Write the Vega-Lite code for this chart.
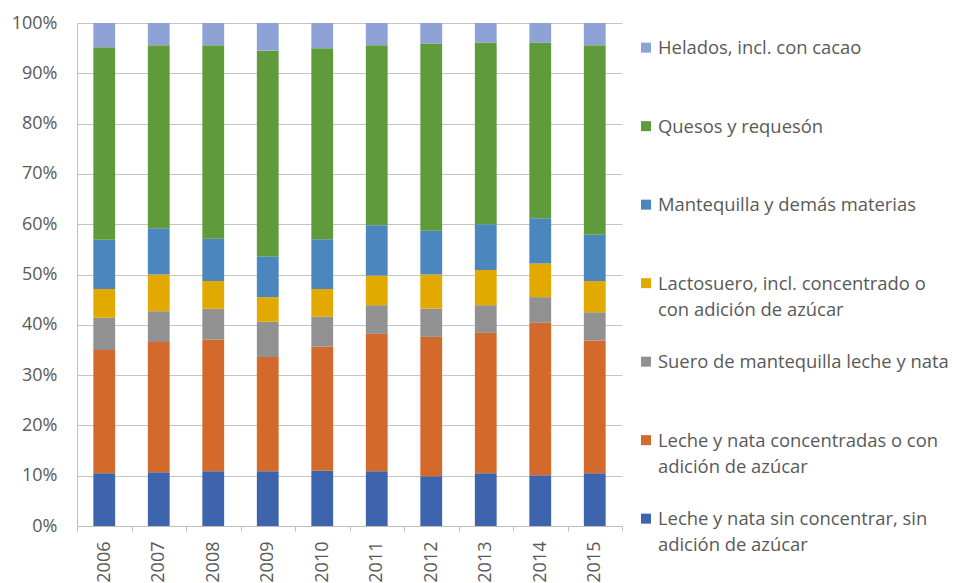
{
  "$schema": "https://vega.github.io/schema/vega-lite/v6.json",
  "padding": {"left": 11, "top": 14, "right": 0, "bottom": 0},
  "config": {"font": "Open Sans", "view": {"stroke": null}},
  "datasets": {
    "shares": [
      {"year": "2006", "cat": "Leche y nata sin concentrar, sin adición de azúcar", "pct": 10.5},
      {"year": "2006", "cat": "Leche y nata concentradas o con adición de azúcar", "pct": 24.5},
      {"year": "2006", "cat": "Suero de mantequilla leche y nata", "pct": 6.4},
      {"year": "2006", "cat": "Lactosuero, incl. concentrado o con adición de azúcar", "pct": 5.7},
      {"year": "2006", "cat": "Mantequilla y demás materias", "pct": 9.8},
      {"year": "2006", "cat": "Quesos y requesón", "pct": 38.3},
      {"year": "2006", "cat": "Helados, incl. con cacao", "pct": 4.8},
      {"year": "2007", "cat": "Leche y nata sin concentrar, sin adición de azúcar", "pct": 10.7},
      {"year": "2007", "cat": "Leche y nata concentradas o con adición de azúcar", "pct": 25.9},
      {"year": "2007", "cat": "Suero de mantequilla leche y nata", "pct": 6.1},
      {"year": "2007", "cat": "Lactosuero, incl. concentrado o con adición de azúcar", "pct": 7.3},
      {"year": "2007", "cat": "Mantequilla y demás materias", "pct": 9.2},
      {"year": "2007", "cat": "Quesos y requesón", "pct": 36.4},
      {"year": "2007", "cat": "Helados, incl. con cacao", "pct": 4.4},
      {"year": "2008", "cat": "Leche y nata sin concentrar, sin adición de azúcar", "pct": 10.9},
      {"year": "2008", "cat": "Leche y nata concentradas o con adición de azúcar", "pct": 26.2},
      {"year": "2008", "cat": "Suero de mantequilla leche y nata", "pct": 6.1},
      {"year": "2008", "cat": "Lactosuero, incl. concentrado o con adición de azúcar", "pct": 5.5},
      {"year": "2008", "cat": "Mantequilla y demás materias", "pct": 8.4},
      {"year": "2008", "cat": "Quesos y requesón", "pct": 38.5},
      {"year": "2008", "cat": "Helados, incl. con cacao", "pct": 4.4},
      {"year": "2009", "cat": "Leche y nata sin concentrar, sin adición de azúcar", "pct": 10.9},
      {"year": "2009", "cat": "Leche y nata concentradas o con adición de azúcar", "pct": 22.7},
      {"year": "2009", "cat": "Suero de mantequilla leche y nata", "pct": 7.0},
      {"year": "2009", "cat": "Lactosuero, incl. concentrado o con adición de azúcar", "pct": 4.9},
      {"year": "2009", "cat": "Mantequilla y demás materias", "pct": 8.1},
      {"year": "2009", "cat": "Quesos y requesón", "pct": 40.9},
      {"year": "2009", "cat": "Helados, incl. con cacao", "pct": 5.5},
      {"year": "2010", "cat": "Leche y nata sin concentrar, sin adición de azúcar", "pct": 11.0},
      {"year": "2010", "cat": "Leche y nata concentradas o con adición de azúcar", "pct": 24.7},
      {"year": "2010", "cat": "Suero de mantequilla leche y nata", "pct": 5.9},
      {"year": "2010", "cat": "Lactosuero, incl. concentrado o con adición de azúcar", "pct": 5.5},
      {"year": "2010", "cat": "Mantequilla y demás materias", "pct": 9.9},
      {"year": "2010", "cat": "Quesos y requesón", "pct": 38.0},
      {"year": "2010", "cat": "Helados, incl. con cacao", "pct": 5.0},
      {"year": "2011", "cat": "Leche y nata sin concentrar, sin adición de azúcar", "pct": 10.9},
      {"year": "2011", "cat": "Leche y nata concentradas o con adición de azúcar", "pct": 27.3},
      {"year": "2011", "cat": "Suero de mantequilla leche y nata", "pct": 5.7},
      {"year": "2011", "cat": "Lactosuero, incl. concentrado o con adición de azúcar", "pct": 5.9},
      {"year": "2011", "cat": "Mantequilla y demás materias", "pct": 10.0},
      {"year": "2011", "cat": "Quesos y requesón", "pct": 35.8},
      {"year": "2011", "cat": "Helados, incl. con cacao", "pct": 4.4},
      {"year": "2012", "cat": "Leche y nata sin concentrar, sin adición de azúcar", "pct": 9.9},
      {"year": "2012", "cat": "Leche y nata concentradas o con adición de azúcar", "pct": 27.7},
      {"year": "2012", "cat": "Suero de mantequilla leche y nata", "pct": 5.6},
      {"year": "2012", "cat": "Lactosuero, incl. concentrado o con adición de azúcar", "pct": 6.8},
      {"year": "2012", "cat": "Mantequilla y demás materias", "pct": 8.7},
      {"year": "2012", "cat": "Quesos y requesón", "pct": 37.2},
      {"year": "2012", "cat": "Helados, incl. con cacao", "pct": 4.1},
      {"year": "2013", "cat": "Leche y nata sin concentrar, sin adición de azúcar", "pct": 10.5},
      {"year": "2013", "cat": "Leche y nata concentradas o con adición de azúcar", "pct": 27.9},
      {"year": "2013", "cat": "Suero de mantequilla leche y nata", "pct": 5.5},
      {"year": "2013", "cat": "Lactosuero, incl. concentrado o con adición de azúcar", "pct": 7.0},
      {"year": "2013", "cat": "Mantequilla y demás materias", "pct": 9.1},
      {"year": "2013", "cat": "Quesos y requesón", "pct": 36.1},
      {"year": "2013", "cat": "Helados, incl. con cacao", "pct": 3.9},
      {"year": "2014", "cat": "Leche y nata sin concentrar, sin adición de azúcar", "pct": 10.1},
      {"year": "2014", "cat": "Leche y nata concentradas o con adición de azúcar", "pct": 30.3},
      {"year": "2014", "cat": "Suero de mantequilla leche y nata", "pct": 5.1},
      {"year": "2014", "cat": "Lactosuero, incl. concentrado o con adición de azúcar", "pct": 6.7},
      {"year": "2014", "cat": "Mantequilla y demás materias", "pct": 9.0},
      {"year": "2014", "cat": "Quesos y requesón", "pct": 34.9},
      {"year": "2014", "cat": "Helados, incl. con cacao", "pct": 3.9},
      {"year": "2015", "cat": "Leche y nata sin concentrar, sin adición de azúcar", "pct": 10.5},
      {"year": "2015", "cat": "Leche y nata concentradas o con adición de azúcar", "pct": 26.4},
      {"year": "2015", "cat": "Suero de mantequilla leche y nata", "pct": 5.6},
      {"year": "2015", "cat": "Lactosuero, incl. concentrado o con adición de azúcar", "pct": 6.2},
      {"year": "2015", "cat": "Mantequilla y demás materias", "pct": 9.2},
      {"year": "2015", "cat": "Quesos y requesón", "pct": 37.7},
      {"year": "2015", "cat": "Helados, incl. con cacao", "pct": 4.4}
    ],
    "legend": [
      {"cat": "Helados, incl. con cacao", "label": "Helados, incl. con cacao"},
      {"cat": "Quesos y requesón", "label": "Quesos y requesón"},
      {"cat": "Mantequilla y demás materias", "label": "Mantequilla y demás materias"},
      {"cat": "Lactosuero, incl. concentrado o con adición de azúcar", "label": "Lactosuero, incl. concentrado o\ncon adición de azúcar"},
      {"cat": "Suero de mantequilla leche y nata", "label": "Suero de mantequilla leche y nata"},
      {"cat": "Leche y nata concentradas o con adición de azúcar", "label": "Leche y nata concentradas o con\nadición de azúcar"},
      {"cat": "Leche y nata sin concentrar, sin adición de azúcar", "label": "Leche y nata sin concentrar, sin\nadición de azúcar"}
    ]
  },
  "hconcat": [
    {
      "width": 545,
      "height": 503,
      "data": {"name": "shares"},
      "transform": [
        {"window": [{"op": "row_number", "as": "stackrank"}], "groupby": ["year"]}
      ],
      "mark": {"type": "bar", "width": {"band": 0.4}},
      "encoding": {
        "x": {
          "field": "year",
          "type": "ordinal",
          "scale": {"paddingInner": 0, "paddingOuter": 0},
          "axis": {
            "title": null,
            "labelAngle": -90,
            "labelFontSize": 18,
            "labelColor": "#595959",
            "labelPadding": 10,
            "tickBand": "extent",
            "tickSize": 5,
            "tickColor": "#bfbfbf",
            "domainColor": "#bfbfbf",
            "grid": false
          }
        },
        "y": {
          "field": "pct",
          "type": "quantitative",
          "stack": "normalize",
          "axis": {
            "title": null,
            "values": [0, 0.1, 0.2, 0.3, 0.4, 0.5, 0.6, 0.7, 0.8, 0.9, 1],
            "format": ".0%",
            "labelFontSize": 18,
            "labelColor": "#595959",
            "labelPadding": 20,
            "ticks": false,
            "grid": true,
            "gridColor": "#c4c4c4",
            "domainColor": "#bfbfbf"
          }
        },
        "order": {"field": "stackrank", "type": "quantitative", "sort": "ascending"},
        "color": {
          "field": "cat",
          "type": "nominal",
          "scale": {
            "domain": [
              "Leche y nata sin concentrar, sin adición de azúcar",
              "Leche y nata concentradas o con adición de azúcar",
              "Suero de mantequilla leche y nata",
              "Lactosuero, incl. concentrado o con adición de azúcar",
              "Mantequilla y demás materias",
              "Quesos y requesón",
              "Helados, incl. con cacao"
            ],
            "range": ["#3E64AD", "#D3692A", "#919191", "#E2AA00", "#4C86BE", "#5F9B3B", "#8EA2D6"]
          },
          "legend": null
        }
      }
    },
    {
      "width": 290,
      "height": 503,
      "data": {"name": "legend"},
      "encoding": {
        "y": {
          "field": "cat",
          "type": "nominal",
          "sort": null,
          "scale": {"type": "point", "padding": 0.204, "align": 0.77},
          "axis": null
        },
        "x": {"datum": 0, "type": "quantitative", "scale": {"domain": [0, 1]}, "axis": null}
      },
      "layer": [
        {
          "mark": {"type": "point", "shape": "square", "filled": true, "opacity": 1, "size": 100},
          "encoding": {
            "color": {
              "field": "cat",
              "type": "nominal",
              "scale": {
                "domain": [
                  "Leche y nata sin concentrar, sin adición de azúcar",
                  "Leche y nata concentradas o con adición de azúcar",
                  "Suero de mantequilla leche y nata",
                  "Lactosuero, incl. concentrado o con adición de azúcar",
                  "Mantequilla y demás materias",
                  "Quesos y requesón",
                  "Helados, incl. con cacao"
                ],
                "range": ["#3E64AD", "#D3692A", "#919191", "#E2AA00", "#4C86BE", "#5F9B3B", "#8EA2D6"]
              },
              "legend": null
            }
          }
        },
        {
          "mark": {
            "type": "text",
            "align": "left",
            "baseline": "alphabetic",
            "dx": 12,
            "dy": 6.5,
            "fontSize": 18.4,
            "lineBreak": "\n",
            "lineHeight": 26,
            "color": "#595959"
          },
          "encoding": {"text": {"field": "label"}}
        }
      ]
    }
  ],
  "spacing": 18,
  "resolve": {"scale": {"color": "independent", "y": "independent", "x": "independent"}}
}
